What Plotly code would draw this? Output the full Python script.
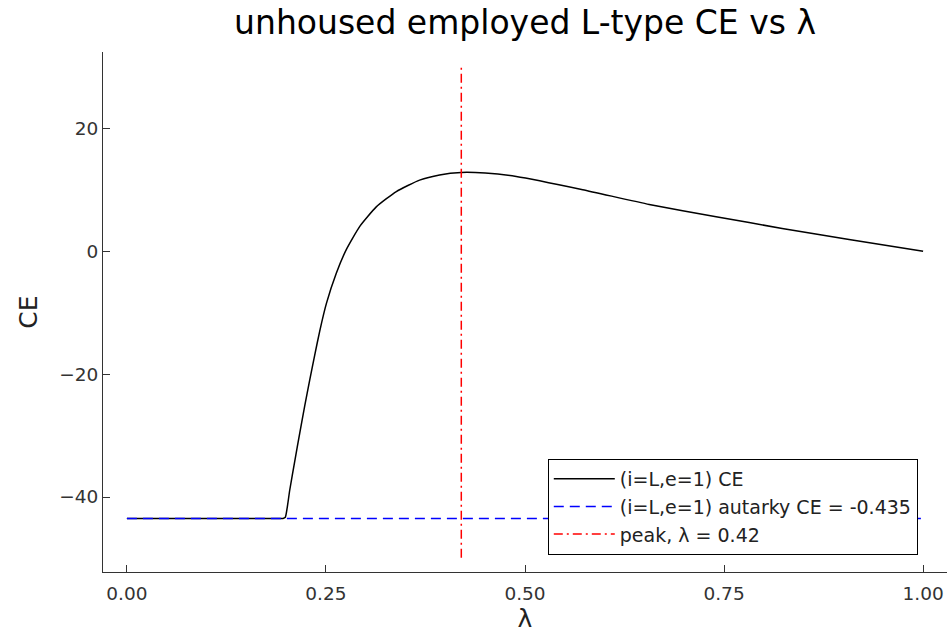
import plotly.graph_objects as go

# data
lam = [0.0, 0.1, 0.19, 0.196, 0.199, 0.2015, 0.2045, 0.2108, 0.2171, 0.2233, 0.2296,
       0.2359, 0.2422, 0.2506, 0.263, 0.2757, 0.2923, 0.3132, 0.3384, 0.3676, 0.3927,
       0.42, 0.45, 0.489, 0.5725, 0.656, 0.74, 0.823, 0.907, 1.0]
ce = [-43.5, -43.5, -43.5, -43.5, -43.3, -41.6, -38.9, -34.2, -29.6, -25.2, -21.0,
      -16.9, -13.0, -8.5, -3.6, 0.3, 4.0, 7.2, 9.7, 11.55, 12.4,
      12.8, 12.7, 12.15, 10.0, 7.6, 5.6, 3.7, 1.9, 0.0]
autarky_x = [0.0, 1.0]
autarky_ce = [-43.5, -43.5]
peak_x = [0.42, 0.42]
peak_y = [-49.9, 30.1]
x_ticks = [0.0, 0.25, 0.5, 0.75, 1.0]
x_tick_labels = ["0.00", "0.25", "0.50", "0.75", "1.00"]
y_ticks = [-40, -20, 0, 20]

FONT = "DejaVu Sans"

fig = go.Figure()
fig.add_trace(go.Scatter(x=lam, y=ce, mode="lines", name="(i=L,e=1) CE",
                         line=dict(color="black", width=1.5, shape="spline", smoothing=0.5)))
fig.add_trace(go.Scatter(x=autarky_x, y=autarky_ce, mode="lines",
                         name="(i=L,e=1) autarky CE = -0.435",
                         line=dict(color="#0000FF", width=1.5, dash="10px,6px")))
fig.add_trace(go.Scatter(x=peak_x, y=peak_y, mode="lines", name="peak, λ = 0.42",
                         line=dict(color="#FF0000", width=1.5, dash="9px,4px,2px,4px")))

fig.update_layout(
    width=949, height=636,
    margin=dict(l=103, r=2, t=52, b=64),
    paper_bgcolor="white", plot_bgcolor="white",
    font=dict(family=FONT, color="#222"),
    title=dict(text="unhoused employed L-type CE vs λ", x=0.5, xref="paper",
               y=0.965, yanchor="middle", font=dict(size=33, color="black", family=FONT)),
    legend=dict(x=0.527, y=0.033, xanchor="left", yanchor="bottom",
                bordercolor="black", borderwidth=1, bgcolor="white",
                font=dict(size=19, color="#222", family=FONT),
                itemwidth=61, tracegroupgap=0),
    showlegend=True,
)
fig.update_xaxes(range=[-0.03, 1.03], tickvals=x_ticks, ticktext=x_tick_labels,
                 ticks="inside", ticklen=7, tickcolor="#333", showgrid=False,
                 zeroline=False, showline=True, linecolor="#333", linewidth=1,
                 ticklabelstandoff=5,
                 tickfont=dict(size=18.5, family=FONT, color="#333"),
                 title=dict(text="λ", font=dict(size=25, family=FONT, color="#222"), standoff=6))
fig.update_yaxes(range=[-52.2, 32.4], tickvals=y_ticks,
                 ticks="inside", ticklen=7, tickcolor="#333", showgrid=False,
                 zeroline=False, showline=True, linecolor="#333", linewidth=1,
                 tickfont=dict(size=18.5, family=FONT, color="#333"),
                 title=dict(text="CE", font=dict(size=25, family=FONT, color="#222"), standoff=14))

fig.write_html("out.html", config={"displayModeBar": False},
               post_script="document.body.style.margin='0';document.body.style.overflow='hidden';")
